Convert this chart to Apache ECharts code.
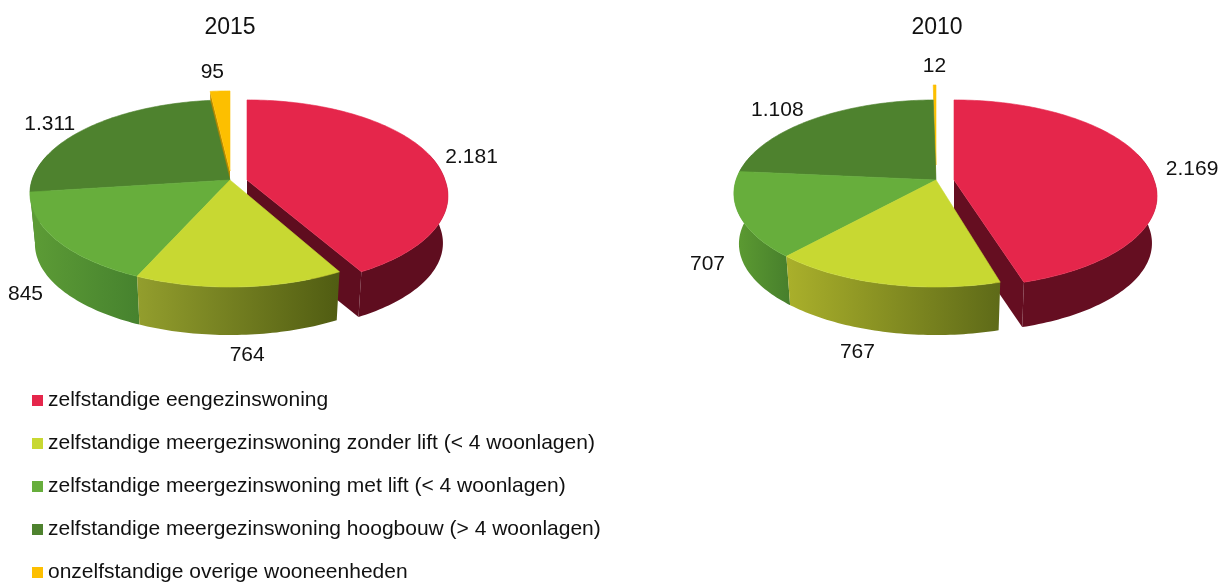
<!DOCTYPE html>
<html>
<head>
<meta charset="utf-8">
<style>
  html, body { margin: 0; padding: 0; background: #fff; }
  #main { width: 1226px; height: 583px; }
</style>
<script src="https://cdn.jsdelivr.net/npm/echarts@6/dist/echarts.min.js"></script>
</head>
<body>
<div id="main"></div>
<script>
const categories = [
  'zelfstandige eengezinswoning',
  'zelfstandige meergezinswoning zonder lift (< 4 woonlagen)',
  'zelfstandige meergezinswoning met lift (< 4 woonlagen)',
  'zelfstandige meergezinswoning hoogbouw (> 4 woonlagen)',
  'onzelfstandige overige wooneenheden'
];
const years = ['2015', '2010'];
const values2015 = [2181, 764, 845, 1311, 95];
const values2010 = [2169, 767, 707, 1108, 12];
const valuesPerYear = [values2015, values2010];

const colors = ['#e5264b', '#c8d832', '#67ae3c', '#4e822e', '#fdbf00'];
// paint order, back to front
const paintOrder = [4, 3, 2, 0, 1];

// perspective of the tilted disc
const ry = 91.6, tilt = 0.144, wallHeight = 50.7, pulledWallHeight = 47.5, wallScale = 0.975;
// a pulled out slice moves further sideways near the viewer
const frontGain = 0.33;

// per pie settings: centre, pulled out slices, wall shading, label nudges
const pies = [
  {
    cx: 230, cy: 180, rx: 198,
    offset: [[17, 0], [0, 0], [0, 0], [0, 0], [0, -9]],
    walls: [['#5f0d1f', '#5f0d1f'], ['#939e2d', '#505c12'], ['#5d9c36', '#46822e'], ['#437329', '#437329'], ['#b98a00', '#b98a00']],
    nudge: [[4, 3], [5, 1], [8, 0], [-11, 5], [-6, -5]]
  },
  {
    cx: 936, cy: 180, rx: 200,
    offset: [[18, 0], [0, 0], [0, 0], [0, 0], [0, -15]],
    walls: [['#650e21', '#650e21'], ['#aab02b', '#5e6a18'], ['#5d9c32', '#477f2c'], ['#437329', '#437329'], ['#c9a63a', '#c9a63a']],
    nudge: [[6, 4], [-14, 2], [10, 0], [-14, 2], [0, -5]]
  }
];

function project(pie, off, angle, radius) {
  const u = Math.sin(angle) * radius, v = -Math.cos(angle) * radius;
  const w = 1 - tilt * v;
  const gain = off[0] * frontGain * Math.max(0, v);
  return [pie.cx + off[0] + gain + pie.rx * u / w, pie.cy + off[1] + ry * v / w];
}

function lower(pie, off, p) {
  const ax = pie.cx + off[0], ay = pie.cy + off[1];
  const h = off[0] !== 0 ? pulledWallHeight : wallHeight;
  return [ax + (p[0] - ax) * wallScale, ay + (p[1] - ay) * wallScale + h];
}

function dutch(n) {
  return String(n).replace(/\B(?=(\d{3})+$)/g, '.');
}

function renderSlice(catIndex, params, api) {
  const pieIndex = params.dataIndex;
  const pie = pies[pieIndex];
  const off = pie.offset[catIndex];
  const vals = valuesPerYear[pieIndex];
  const total = vals.reduce((a, b) => a + b, 0);
  const before = vals.slice(0, catIndex).reduce((a, b) => a + b, 0);
  const a0 = before / total * Math.PI * 2;
  const a1 = (before + api.value(0)) / total * Math.PI * 2;
  const apex = [pie.cx + off[0], pie.cy + off[1]];

  const arc = [];
  const steps = Math.max(4, Math.ceil((a1 - a0) / 0.02));
  for (let i = 0; i <= steps; i++) {
    arc.push(a0 + (a1 - a0) * i / steps);
  }
  const topArc = arc.map(a => project(pie, off, a, 1));
  const children = [];
  const fill = colors[catIndex];
  const wall = pie.walls[catIndex];

  // radial walls only show on slices that are pulled out
  if (off[0] !== 0 || off[1] !== 0) {
    [topArc[0], topArc[topArc.length - 1]].forEach(p => {
      children.push({
        type: 'polygon',
        shape: { points: [apex, p, lower(pie, off, p), lower(pie, off, apex)] },
        style: { fill: wall[1] }
      });
    });
  }

  // outer wall, only the part towards the viewer
  const front = arc.filter(a => -Math.cos(a) > -0.3).map(a => project(pie, off, a, 1));
  if (front.length > 1) {
    const bottom = front.map(p => lower(pie, off, p)).reverse();
    children.push({
      type: 'polygon',
      shape: { points: front.concat(bottom) },
      style: {
        fill: {
          type: 'linear', x: 0, y: 0, x2: 1, y2: 0,
          colorStops: [{ offset: 0, color: wall[0] }, { offset: 1, color: wall[1] }]
        }
      }
    });
  }

  // top face
  children.push({
    type: 'polygon',
    shape: { points: [apex].concat(topArc) },
    style: { fill: fill, stroke: fill, lineWidth: 0.6 }
  });

  // value label outside the rim
  const mid = (a0 + a1) / 2;
  const lp = project(pie, off, mid, 1.2);
  const nudge = pie.nudge[catIndex];
  const drop = -Math.cos(mid) > 0 ? 41 : 0;
  children.push({
    type: 'text',
    z2: 50,
    style: {
      x: lp[0] + nudge[0],
      y: lp[1] + drop + nudge[1],
      text: dutch(api.value(0)),
      fill: '#111',
      font: '21px "Liberation Sans", Arial, sans-serif',
      textAlign: 'center',
      textVerticalAlign: 'middle'
    }
  });

  return { type: 'group', children: children };
}

const chart = echarts.init(document.getElementById('main'), null, { renderer: 'canvas' });

chart.setOption({
  animation: false,
  backgroundColor: '#fff',
  title: years.map((y, i) => ({
    text: y,
    left: i === 0 ? 230 : 937,
    top: 16,
    padding: 0,
    textAlign: 'center',
    textStyle: { fontFamily: '"Liberation Sans", Arial, sans-serif', fontSize: 23, fontWeight: 'normal', color: '#111' }
  })),
  legend: {
    orient: 'vertical',
    left: 32,
    top: 390,
    height: 193,
    padding: 0,
    icon: 'rect',
    itemWidth: 11,
    itemHeight: 11,
    itemGap: 22,
    selectedMode: false,
    data: categories,
    textStyle: { fontFamily: '"Liberation Sans", Arial, sans-serif', fontSize: 21, color: '#111', lineHeight: 21 }
  },
  series: categories.map((name, c) => ({
    type: 'custom',
    name: name,
    coordinateSystem: 'none',
    z: 2 + paintOrder.indexOf(c),
    itemStyle: { color: colors[c] },
    silent: true,
    data: valuesPerYear.map(vals => [vals[c]]),
    renderItem: (params, api) => renderSlice(c, params, api)
  }))
});
</script>
</body>
</html>
